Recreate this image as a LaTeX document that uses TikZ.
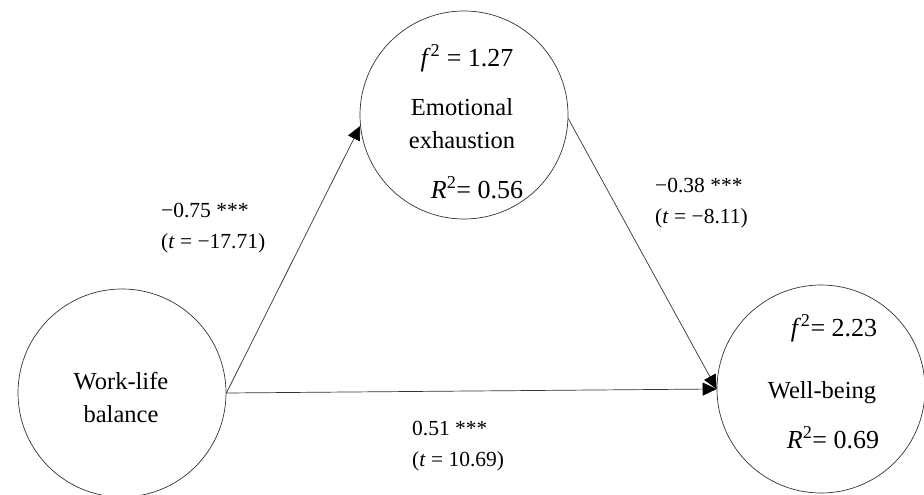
\documentclass[tikz,border=0pt]{standalone}
\usepackage{fontspec}
\setmainfont{Liberation Serif}
\usetikzlibrary{arrows.meta,positioning}

\begin{document}
\begin{tikzpicture}[x=1pt, y=-1pt,
        construct/.style={circle, draw=black!80, line width=0.7pt, minimum size=208pt, inner sep=0pt},
        cname/.style={font=\fontsize{24.5}{33}\selectfont, align=center},
        stat/.style={font=\fontsize{26}{30}\selectfont},
        coef/.style={font=\fontsize{21.5}{31}\selectfont, align=left, anchor=west, inner sep=0pt},
        link/.style={-{Triangle[length=14pt,width=13pt,color=black]}, draw=black!80, line width=0.7pt}]
        \useasboundingbox (0,0) rectangle (924,495);
        % Constructs
        \node[construct] (wlb) at (122,393) {};
        \node[construct] (ee) at (464,115) {};
        \node[construct] (wb) at (821,389) {};
        % Work-life balance
        \node[cname] (wlbname) at (121,397) {Work-life\\balance};
        % Emotional exhaustion
        \node[stat] (eef) at (467,58) {\textit{f}\raisebox{1pt}{\textsuperscript{2}} = 1.27};
        \node[cname] (eename) at (462,124) {Emotional\\exhaustion};
        \node[stat] (eer) at (477,188) {\textit{R}\raisebox{1pt}{\textsuperscript{2}}= 0.56};
        % Well-being
        \node[stat] (wbf) at (834,328) {\textit{f}\raisebox{1pt}{\textsuperscript{2}}= 2.23};
        \node[cname] (wbname) at (822,393) {Well-being};
        \node[stat] (wbr) at (833,438) {\textit{R}\raisebox{1pt}{\textsuperscript{2}}= 0.69};

        % Paths
        \draw[link] (wlb.east) -- (ee.186);
        \draw[link] (wlb.east) -- (wb.west);
        \draw[link] (ee.-2) -- (wb.west);

        % Path coefficients
        \node[coef] (c1) at (161,228) {−0.75 ***\\(\textit{t} = −17.71)};
        \node[coef] (c2) at (655,203) {−0.38 ***\\(\textit{t} = −8.11)};
        \node[coef] (c3) at (412,446) {0.51 ***\\(\textit{t} = 10.69)};
\end{tikzpicture}
\end{document}
